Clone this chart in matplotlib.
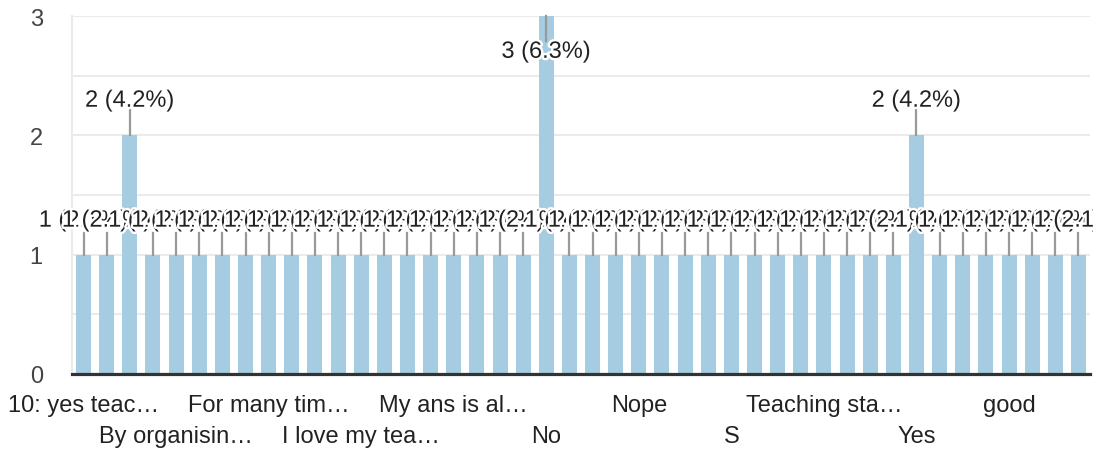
import matplotlib
matplotlib.use("Agg")
import matplotlib.pyplot as plt
import matplotlib.patheffects as pe
from matplotlib.ticker import MultipleLocator
import math

plt.rcParams['font.family'] = ['Liberation Sans', 'DejaVu Sans']

# ---- data ----
counts = [1, 1, 2, 1, 1, 1, 1, 1, 1, 1, 1,
          1, 1, 1, 1, 1, 1, 1, 1, 1, 3, 1,
          1, 1, 1, 1, 1, 1, 1, 1, 1, 1, 1,
          1, 1, 1, 2, 1, 1, 1, 1, 1, 1, 1]
total_responses = 48
tick_labels = ["10: yes teac…", "By organisin…", "For many tim…", "I love my tea…",
               "My ans is al…", "No", "Nope", "S", "Teaching sta…", "Yes", "good"]
tick_step = 4

bar_color = "#a5cce0"
FS = 17
W, H = 1093, 452
fig = plt.figure(figsize=(W / 100, H / 100), dpi=100)
ax = fig.add_axes([72 / W, 1 - 375 / H, (1090 - 72) / W, (375 - 17) / H])

n = len(counts)
xs = list(range(n))
ax.bar(xs, counts, width=0.65, color=bar_color, zorder=2)
ax.set_xlim(-0.5, n - 0.5)
ax.set_ylim(0, 3)

# grid
ax.yaxis.set_major_locator(MultipleLocator(1))
ax.yaxis.set_minor_locator(MultipleLocator(0.5))
ax.grid(axis='y', which='both', color='#ebebeb', linewidth=1.5, zorder=0)
for s in ['top', 'right', 'bottom']:
    ax.spines[s].set_visible(False)
ax.spines['left'].set_color('#ebebeb')
ax.spines['left'].set_linewidth(1.5)
ax.axhline(0, color='#333333', linewidth=2.3, zorder=5, clip_on=False)

ax.tick_params(axis='y', which='both', length=0, labelsize=FS, labelcolor='#444444', pad=21)
ax.tick_params(axis='x', length=0, labelbottom=False)
ax.set_yticks([0, 1, 2, 3])
ax.set_yticklabels(['0', '1', '2', '3'])


def pct(c):
    return math.floor(c / total_responses * 1000 + 0.5) / 10


# value annotations
stroke = [pe.withStroke(linewidth=3.5, foreground='white')]
ymax = 3
for x, c in zip(xs, counts):
    label = f"{c} ({pct(c):.1f}%)"
    if c >= ymax:
        ax.plot([x, x], [c, c - 0.21], color='#999999', linewidth=1.6, zorder=3, clip_on=False)
        ty = c - 0.30
    elif c > 1:
        ax.plot([x, x], [c, c + 0.21], color='#999999', linewidth=1.6, zorder=3, clip_on=False)
        ty = c + 0.29
    else:
        ax.plot([x, x], [c, c + 0.18], color='#999999', linewidth=1.6, zorder=3, clip_on=False)
        ty = c + 0.285
    ax.text(x, ty, label, ha='center', va='center', fontsize=FS, color='#222222',
            path_effects=stroke, zorder=4, clip_on=False)

# x tick labels, alternating rows
for k, lab in enumerate(tick_labels):
    x = k * tick_step
    off = -22 if k % 2 == 0 else -45
    ax.annotate(lab, xy=(x, 0), xycoords=('data', 'axes fraction'),
                xytext=(0, off), textcoords='offset points',
                ha='center', va='center', fontsize=FS, color='#222222',
                annotation_clip=False)

fig.savefig("out.png", dpi=100, facecolor='white')
